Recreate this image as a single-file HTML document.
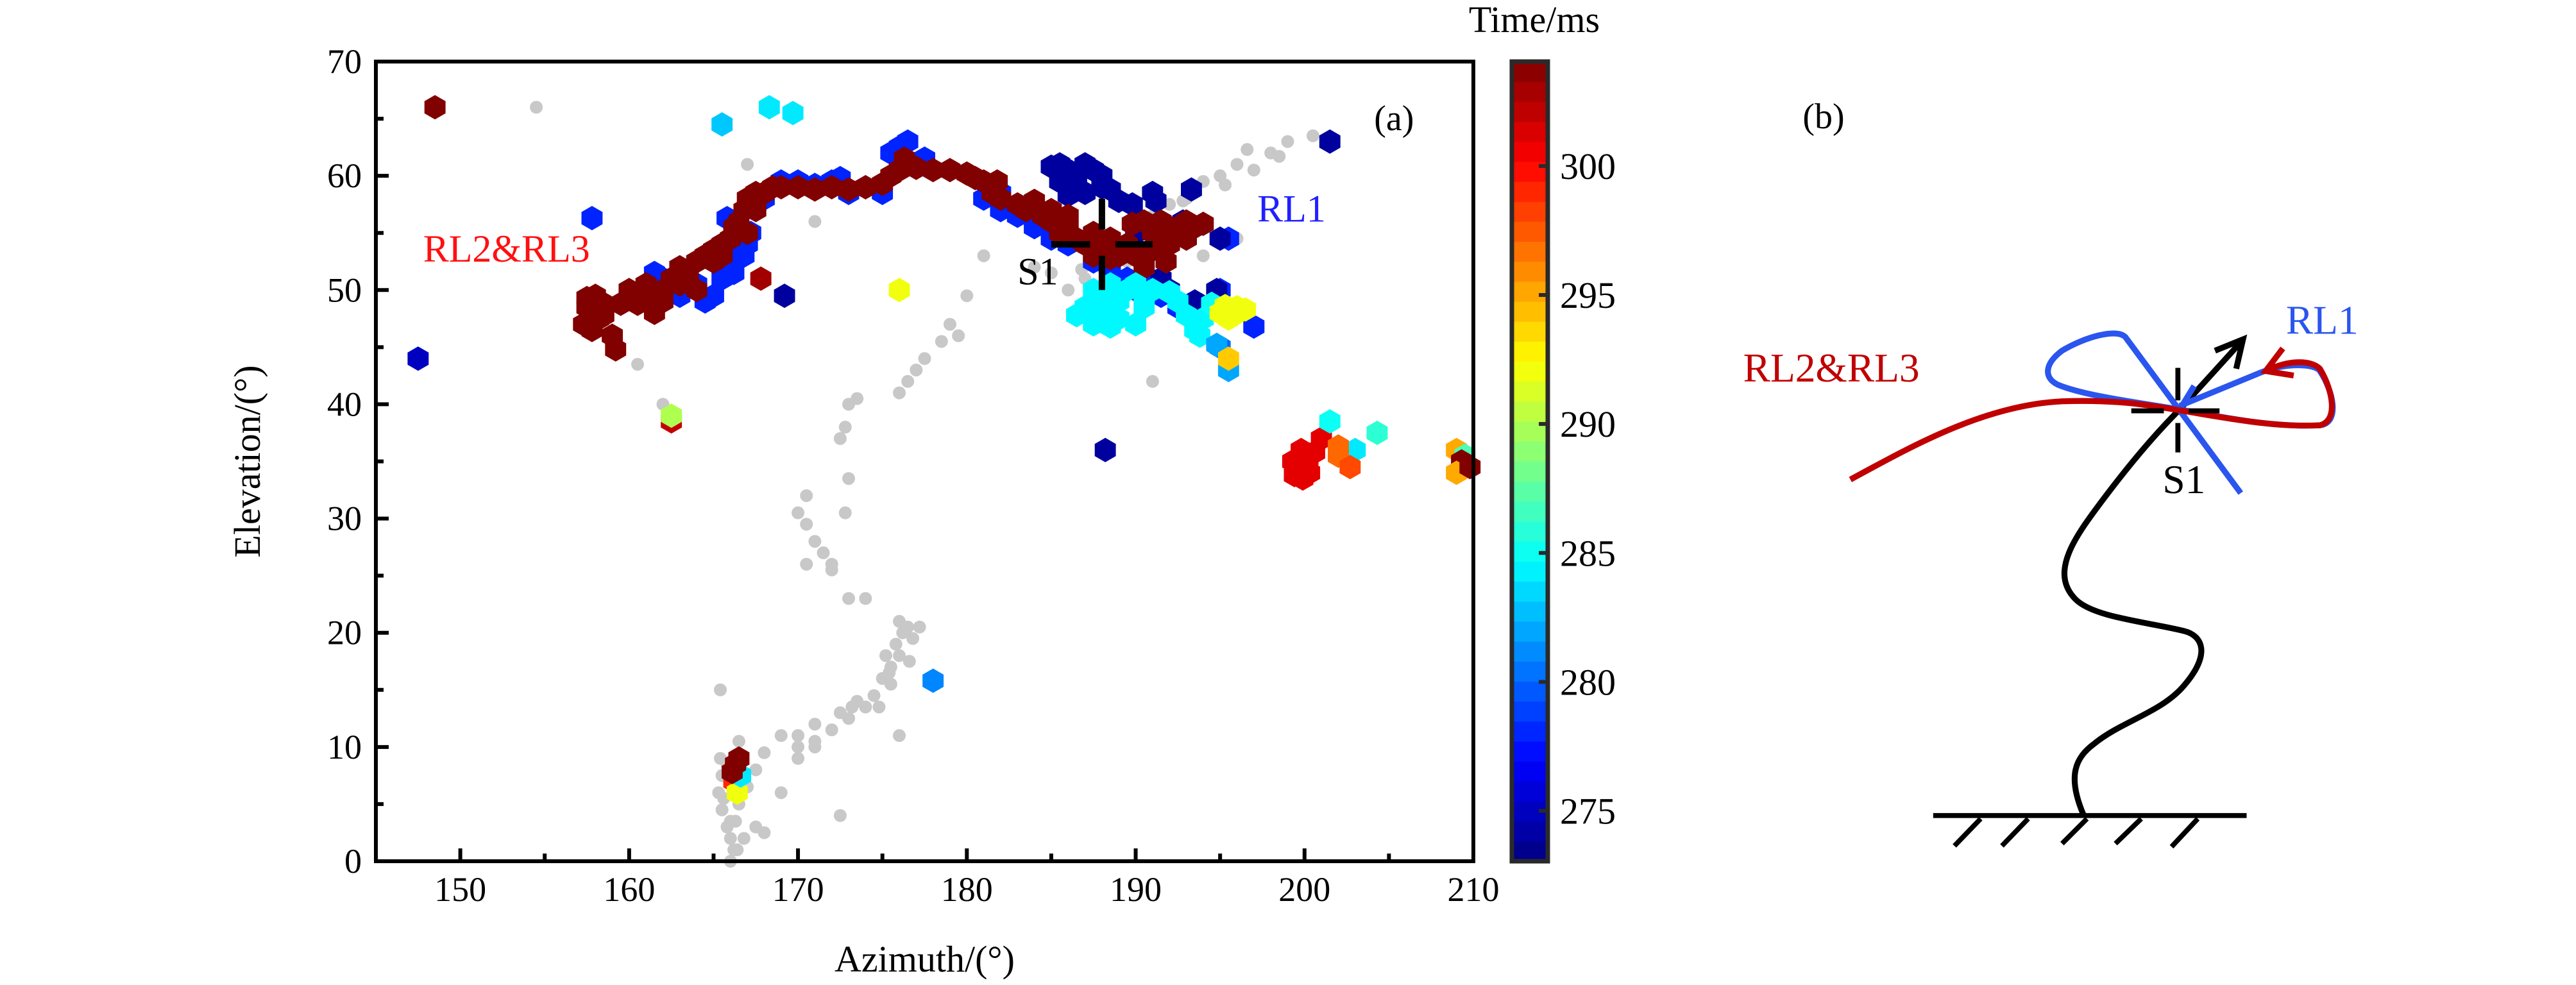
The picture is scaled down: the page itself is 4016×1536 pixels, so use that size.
<!DOCTYPE html>
<html><head><meta charset="utf-8"><style>
html,body{margin:0;padding:0;background:#fff;}
svg{display:block;font-family:"Liberation Serif",serif;}
</style></head><body>
<svg id="chart" width="4016" height="1536" viewBox="0 0 4016 1536" xmlns="http://www.w3.org/2000/svg">
<rect width="4016" height="1536" fill="#fff"/>
<g id="panelA"></g>
<g id="cbar"></g>
<g id="panelB" transform="translate(2700,300) scale(0.7052)" fill="none" stroke-linecap="butt">
  <path d="M445,1378 L1138,1378" stroke="#000" stroke-width="11"/>
  <path d="M550,1385 L492,1445 M655,1385 L597,1445 M785,1385 L730,1440 M905,1385 L848,1440 M1030,1385 L972,1447" stroke="#000" stroke-width="11"/>
  <path d="M778,1378 C740,1290 760,1250 800,1220 C860,1170 950,1150 1000,1090 C1060,1020 1040,980 1000,970 C920,950 800,940 760,900 C700,840 760,760 820,680 C880,600 940,530 990,480" stroke="#000" stroke-width="13"/>
  <path d="M990,480 L1128,328 M1068,350 L1130,325 L1115,390" stroke="#000" stroke-width="13"/>
  <path d="M1125,665 L870,320 C850,300 780,320 730,350 C690,380 690,410 720,425 C780,450 900,465 990,480 M990,480 L1022,428 M990,472 L1170,398 C1230,375 1290,380 1300,395 C1330,440 1345,510 1300,515 C1200,520 1100,500 990,480" stroke="#2a55ee" stroke-width="13"/>
  <path d="M262,635 C400,560 560,470 730,462 C850,458 920,470 990,482 C1100,500 1200,520 1300,515 C1340,505 1330,440 1300,390 C1280,370 1230,370 1180,395 M1218,345 L1180,395 L1242,405" stroke="#c00000" stroke-width="13"/>
  <path d="M883,483 L955,483 M1010,483 L1078,483 M986,388 L986,460 M986,510 L986,575" stroke="#000" stroke-width="11"/>
  <text x="25" y="418" font-size="90" fill="#c00000" stroke="none">RL2&amp;RL3</text>
  <text x="1225" y="313" font-size="90" fill="#2a55ee" stroke="none">RL1</text>
  <text x="952" y="665" font-size="90" fill="#000" stroke="none">S1</text>
</g>
<text x="2843" y="200" font-size="56" text-anchor="middle">(b)</text>
</svg>
<script>
// ---- data ----
const xTicks=[150,160,170,180,190,200,210];
const yTicks=[0,10,20,30,40,50,60,70];
const cTicks=[275,280,285,290,295,300];
const grayAz=[166,166.2,166,165.8,166.3,165.5,166.5,165.3,167,165.5,167.5,165.4,168,169,170,171,172,172.5,173,173.5,174,174.5,175,175.5,176,175.8,176.2,176,176.5,175.5,176,174,173,172,171.5,171,170.5,170,170.5,172.8,173,172.5,172.8,173,173.5,176,176.5,177,177.5,178.5,179.5,179,180,165.4,172.5,168,169,170,171,162,160.5,166,167,171,191,186,187,188,189,190,191,192,193,194,195,196,197,198,199,200.5,194,196,185,184,154.5,166.5,165.8,166.8,167.5,170,171,173.2,174.8,175.2,176.8,177.8,170.5,172,166.4,166,165.6,175.4,176.6,177.2,181,186.8,189.5,192.8,195.3,198.5,196.6];
const grayEl=[0,1,2,3,3.5,4.5,5,6,6.5,7.5,8,9,9.5,11,10,12,11.5,13,12.5,14,13.5,14.5,16,17,18,19,20,21,20.5,15.5,11,23,23,26,27,28,29.5,30.5,32,30.5,33.5,37,38,40,40.5,41,42,43,44,45.5,46,47,49.5,15,4,2.5,6,9,10,40,43.5,56,61,56,42,50,51,52,53.5,55,56.5,57.5,58,59.5,60,61,60.5,62,63,63.5,53,54.5,51.5,52,66,10.5,8.5,2,3,11,10.5,13.5,13.5,18,19.5,16,26,25.5,1,3.5,5.5,16.5,17.5,20.5,53,51.8,52.5,57.8,59.2,61.7,62.3];
const ptAz=[157.5,157.5,158,158.5,157.3,157.8,158.2,159,159.2,158.5,159.5,160.5,161,161.5,161,162,162.5,163,163,163.5,164,164,164.5,165,165,165.5,165.5,166,166.2,166.5,166.8,167,167,167.5,168,168.5,169,170,171,172,173,174,175,175.5,176,176.3,176.5,177,178,179,180,180.5,181,181.5,182,183,183.5,184,184.5,185,185.5,186,186.5,187,187.5,187.5,188,188.5,189,189.5,190,190.5,191,191,191.5,192,192,192.5,193,193.5,194,193,191.8,189.8,190.5,188.5,185,186,181.8,167.5,162,160,
161.5,162,163,164,164.5,165,165.5,166,166.5,166.8,167,167.2,166.2,167.5,168,169,170,171,172,173,174,175,175.5,176,176.5,177,181,182,183,184,185,186,187.5,188.5,189.5,190,190.5,191.5,192.5,193.5,194,195.5,195,197,182,165.8,195,172.5,177.5,
185,185.5,186,186.5,187,187.5,188,185.5,186.5,187,188,188.5,189,186,189.8,191,191.2,193.3,192.8,193,194.8,195,190,191.5,192,193.5,194.5,169.2,
187.5,188,188.5,189,189.5,190,190.5,191,187,188,189,187.5,188.5,190,186.5,190.5,192,192.5,193,193.5,194,193.8,194.5,195.5,194.8,
195,195.5,196,196.5,195.3,195.8,195.5,
148.5,147.5,157.8,162.5,162.5,167.8,165.5,168.3,169.7,176,188.2,201.5,178,166.3,166.5,166.2,166.4,166.6,166.3,166.1,
199.3,199.7,200,200.3,199.5,199.8,200.2,199.4,200,200.6,199.9,201,201.5,203,204.3,202,202,202.7,209,209.5,209.3,209.5,209,209.8];
const ptEl=[49.3,48.5,49.5,48.8,47,46.5,47.5,46,44.8,47.8,48.8,48.8,49.5,48,50.5,50,51,50.5,52,51.5,52.5,50,53,52.5,53.5,54,53,54.5,55.5,56,57,55,58,58.5,58.5,59,59,59,58.8,59,58.8,59,59.3,60,60.5,61.5,61,60.7,60.5,60.5,60.2,59.8,59.5,58.5,58,57.5,57,57.8,56.5,56,55,55.5,54.5,54,55,53,53.5,54.5,53,54,53,52,53.5,55,56,55.5,54,55.5,56,55.5,55.8,54.5,52.5,55.8,56,52.8,57,56.5,59.5,57,49,50,
51.5,51,49.5,50.5,49,49.5,51,52,53.5,53,54,55,51.5,57.5,58,59.5,59.5,59.2,59.5,58.5,59,58.5,62,62.5,63,61,58,57,56.5,55.5,54.5,54,52.5,51.5,51,50,50.5,49.5,48.5,49,48,54.5,50,46.8,58.5,56.3,45,59.8,61.5,
60.8,61,60.5,60,61,60.5,60,59.5,59,58.5,59,58.8,57.8,58.3,57.5,58.5,57.8,58.8,56,55,50,54.5,55,51,50,49,48.5,49.5,
50,49.5,50.5,49,50,50.5,49.5,50,48.5,48,47.5,47,46.8,47,47.8,48.5,49.8,49,47.8,46.5,47.5,46,48.8,43,45.2,
48,47.5,48.5,48.3,48.6,47.8,44,
66,44,56.3,38.5,39,51,64.5,66,65.5,50,36,63,15.8,8,9,7,6,7.5,8.5,7.8,
35,34.5,35.5,34,34.8,36,35.2,33.8,34.2,35.8,33.5,37,38.5,36,37.5,35.5,36.3,34.5,36,35.5,35,34.5,34,34.5];
const ptTime=[304,304,304,304,304,304,304,304,304,304,304,304,304,304,304,304,304,304,304,304,304,304,304,304,304,304,304,304,304,304,304,304,304,304,304,304,304,304,304,304,304,304,304,304,304,304,304,304,304,304,304,304,304,304,304,304,304,304,304,304,304,304,304,304,304,304,304,304,304,304,304,304,304,304,304,304,304,304,304,304,304,304,304,304,304,304,304,304,304,304,304,304,
278,278,278,278,278,278,278,278,278,278,278,278,278,278,278,278,278,278,278,278,278,278,278,278,278,278,278,278,278,278,278,278,278,278,278,278,278,278,278,278,278,278,278,278,278,278,280,278,278,
274,274,274,274,274,274,274,274,274,274,274,274,274,274,274,274,274,274,274,274,274,274,274,274,274,274,274,274,
284.5,284.5,284.5,284.5,284.5,284.5,284.5,284.5,284.5,284.5,284.5,284.5,284.5,284.5,284.5,284.5,284.5,284.5,284.5,284.5,284.5,284.5,285,282,282,
292,292,292,292,292,292,294,
304,275,278,302,290,303,283,284,284,292,274,274,281,303,304,299,292,284,304,305,
301,301,301,301,301,301,301,301,301,301,301,301,285,284,286,297,297,298,295,287,304,304,295,304];

// ---- layout ----
const NS="http://www.w3.org/2000/svg";
const L=586,R=2297,T=96,B=1343;
const xMin=145,xMax=210,yMin=0,yMax=70;
const cMin=273.05,cMax=304.05,cL=2357,cR=2413,cT=96,cB=1343;
const X=v=>L+(v-xMin)/(xMax-xMin)*(R-L);
const Y=v=>B-(v-yMin)/(yMax-yMin)*(B-T);
const CY=v=>cB-(v-cMin)/(cMax-cMin)*(cB-cT);
function jet(t){t=Math.max(0,Math.min(1,(t-cMin)/(cMax-cMin)));
 const f=x=>Math.round(255*Math.max(0,Math.min(1,x)));
 return `rgb(${f(1.5-Math.abs(4*t-3))},${f(1.5-Math.abs(4*t-2))},${f(1.5-Math.abs(4*t-1))})`;}
function mk(tag,attrs,parent){const e=document.createElementNS(NS,tag);for(const k in attrs)e.setAttribute(k,attrs[k]);parent.appendChild(e);return e;}
const A=document.getElementById('panelA');
const gG=mk('g',{},A);


for(let i=0;i<grayAz.length;i++){
 const c=mk('circle',{cx:X(grayAz[i]),cy:Y(grayEl[i]),r:10,fill:'#c8c8c8'},gG);
 
 
}
const hG=mk('g',{},A);


const r=19;
function hexPts(cx,cy){let s=[];for(let k=0;k<6;k++){const a=Math.PI/3*k+Math.PI/6;s.push((cx+r*Math.cos(a)).toFixed(1)+','+(cy+r*Math.sin(a)).toFixed(1));}return s.join(' ');}
const idx=ptAz.map((_,i)=>i);
const order=idx.filter(i=>ptTime[i]<281).concat(idx.filter(i=>ptTime[i]>=281));
for(const i of order){
 const p=mk('polygon',{points:hexPts(X(ptAz[i]),Y(ptEl[i])),fill:jet(ptTime[i])},hG);
 
 
}
const cr=mk('path',{d:`M${X(185)},${Y(54)}H${X(187.3)}M${X(188.8)},${Y(54)}H${X(191)}M${X(188)},${Y(58)}V${Y(55.3)}M${X(188)},${Y(53)}V${Y(50)}`,stroke:'#000','stroke-width':10,fill:'none'},A);


function txt(s,x,y,size,attrs,name,parent){const t=mk('text',Object.assign({x:x,y:y,'font-size':size},attrs||{}),parent||A);t.textContent=s;
 
 
 return t;}
txt('S1',X(183),Y(51.5)+18,60,{fill:'#000'},'s1-label');
txt('RL1',X(197.2),Y(57)+18,60,{fill:'#2020ff'},'rl1-label');
txt('RL2&RL3',X(147.8),Y(53.5)+18,60,{fill:'#ff1010'},'rl2-rl3-label');
txt('(a)',X(205.3),Y(65)+18,56,{'text-anchor':'middle'},'panel-a-label');
const fr=mk('rect',{x:L,y:T,width:R-L,height:B-T,fill:'none',stroke:'#000','stroke-width':6},A);


let td='';
for(let v=145;v<=210;v+=5){const big=(v%10===0);td+=`M${X(v)},${B}v${big?-20:-12}`;}
for(let v=0;v<=70;v+=5){const big=(v%10===0);td+=`M${L},${Y(v)}h${big?20:12}`;}
const tk=mk('path',{d:td,stroke:'#000','stroke-width':6,fill:'none'},A);


for(const v of xTicks) txt(String(v),X(v),1405,54,{'text-anchor':'middle'},'x-tick-label');
for(const v of yTicks) txt(String(v),L-22,Y(v)+18,54,{'text-anchor':'end'},'y-tick-label');
txt('Azimuth/(°)',X(177.5),1515,58,{'text-anchor':'middle'},'x-axis-title');
txt('Elevation/(°)',0,0,58,{'text-anchor':'middle',transform:`translate(405,${(T+B)/2}) rotate(-90)`},'y-axis-title');
const C=document.getElementById('cbar');
const cg=mk('g',{},C);
for(let k=0;k<40;k++){
 const v0=cMin+(cMax-cMin)*k/40, v1=cMin+(cMax-cMin)*(k+1)/40;
 const s=mk('rect',{x:cL,y:CY(v1),width:cR-cL,height:CY(v0)-CY(v1)+0.5,fill:jet((v0+v1)/2)},cg);
 
 
}
const cf=mk('rect',{x:cL,y:cT,width:cR-cL,height:cB-cT,fill:'none',stroke:'#2a2a2a','stroke-width':7},C);


let cd='';for(const v of cTicks)cd+=`M${cR},${CY(v)}h-14`;
const ct=mk('path',{d:cd,stroke:'#2a2a2a','stroke-width':6},C);


for(const v of cTicks) txt(String(v),2432,CY(v)+20,58,{},'colorbar-tick-label',C);
txt('Time/ms',2392,50,58,{'text-anchor':'middle'},'colorbar-title',C);
</script>
</body></html>
